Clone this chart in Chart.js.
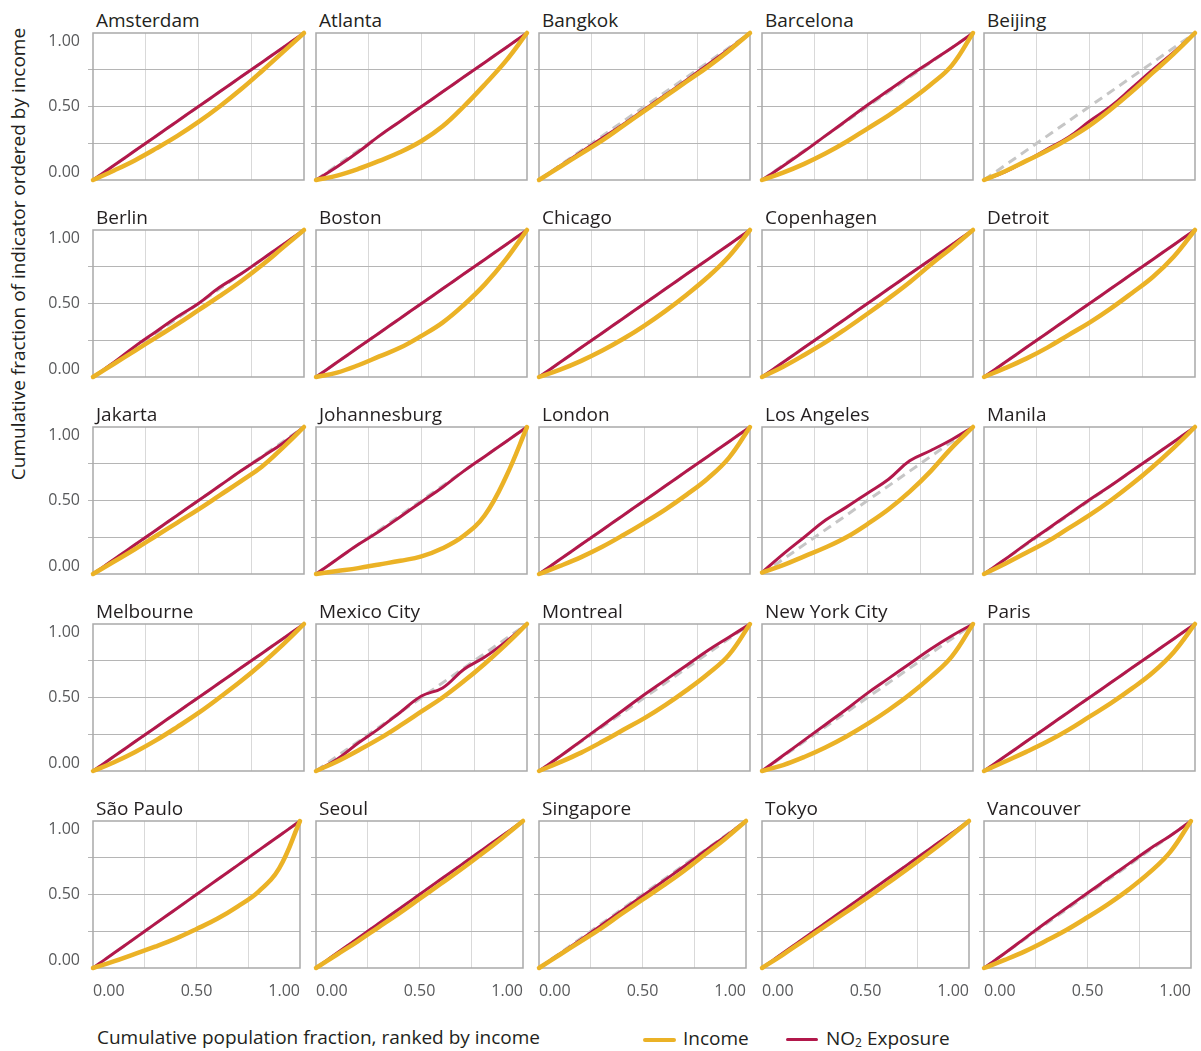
<!DOCTYPE html>
<html>
<head>
<meta charset="utf-8">
<title>Income and NO2 exposure concentration curves</title>
<script src="https://cdn.jsdelivr.net/npm/chart.js@4.4.0/dist/chart.umd.min.js"></script>
<style>
  body { margin: 0; background: #fff; font-family: "Open Sans", sans-serif; }
  #wrap { position: relative; width: 1201px; height: 1051px; overflow: hidden; }
  #wrap canvas { position: absolute; }
  .city { position: absolute; font-size: 19px; line-height: 1; color: #231f20; white-space: nowrap; }
  .axis-title { position: absolute; font-size: 19px; line-height: 1; color: #231f20; white-space: nowrap; }
  #ytitle { left: 18px; top: 254px; transform: translate(-50%, -50%) rotate(-90deg); }
  #xtitle { left: 97px; top: 1028px; }
  .key { position: absolute; top: 1029px; font-size: 19px; line-height: 1; color: #231f20; white-space: nowrap; }
  .swatch { position: absolute; border-radius: 2px; }
  sub { font-size: 12px; vertical-align: -2px; line-height: 0; }
</style>
</head>
<body>
<div id="wrap">
  <div id="ytitle" class="axis-title">Cumulative fraction of indicator ordered by income</div>
  <div id="xtitle" class="axis-title">Cumulative population fraction, ranked by income</div>
  <div class="swatch" style="left:643px; top:1038px; width:33px; height:4px; background:#ebb226;"></div>
  <div class="key" style="left:683px;">Income</div>
  <div class="swatch" style="left:786px; top:1038px; width:32px; height:3px; background:#b2184b;"></div>
  <div class="key" style="left:826px;">NO<sub>2</sub> Exposure</div>
</div>
<script>
// cities, in panel order (row by row)
const cities = ['Amsterdam', 'Atlanta', 'Bangkok', 'Barcelona', 'Beijing',
                'Berlin', 'Boston', 'Chicago', 'Copenhagen', 'Detroit',
                'Jakarta', 'Johannesburg', 'London', 'Los Angeles', 'Manila',
                'Melbourne', 'Mexico City', 'Montreal', 'New York City', 'Paris',
                'São Paulo', 'Seoul', 'Singapore', 'Tokyo', 'Vancouver'];

// cumulative population fraction (x) shared by every curve
const popFraction = [0, 0.1, 0.2, 0.3, 0.4, 0.5, 0.6, 0.7, 0.8, 0.9, 1];

// cumulative share of income, one row per city
const incomeShare = [
  [0, 0.065, 0.135, 0.215, 0.30, 0.395, 0.50, 0.615, 0.74, 0.87, 1],
  [0, 0.03, 0.075, 0.13, 0.19, 0.265, 0.365, 0.50, 0.65, 0.81, 1],
  [0, 0.09, 0.18, 0.27, 0.37, 0.47, 0.57, 0.67, 0.77, 0.88, 1],
  [0, 0.05, 0.11, 0.18, 0.26, 0.35, 0.44, 0.54, 0.65, 0.78, 1],
  [0, 0.06, 0.13, 0.20, 0.28, 0.37, 0.48, 0.60, 0.73, 0.86, 1],
  [0, 0.09, 0.18, 0.27, 0.36, 0.455, 0.55, 0.65, 0.76, 0.88, 1],
  [0, 0.03, 0.08, 0.14, 0.20, 0.28, 0.37, 0.49, 0.63, 0.80, 1],
  [0, 0.05, 0.11, 0.18, 0.26, 0.35, 0.45, 0.56, 0.68, 0.82, 1],
  [0, 0.07, 0.15, 0.235, 0.33, 0.43, 0.535, 0.645, 0.765, 0.88, 1],
  [0, 0.06, 0.125, 0.20, 0.285, 0.37, 0.465, 0.57, 0.68, 0.82, 1],
  [0, 0.085, 0.17, 0.26, 0.35, 0.44, 0.535, 0.63, 0.73, 0.86, 1],
  [0, 0.02, 0.04, 0.065, 0.09, 0.12, 0.175, 0.26, 0.40, 0.66, 1],
  [0, 0.055, 0.115, 0.185, 0.265, 0.35, 0.44, 0.54, 0.65, 0.79, 1],
  [0.01, 0.06, 0.12, 0.18, 0.25, 0.34, 0.44, 0.56, 0.70, 0.86, 1],
  [0, 0.07, 0.145, 0.22, 0.31, 0.40, 0.50, 0.61, 0.73, 0.86, 1],
  [0, 0.06, 0.13, 0.21, 0.30, 0.395, 0.50, 0.61, 0.73, 0.86, 1],
  [0, 0.065, 0.14, 0.22, 0.31, 0.405, 0.50, 0.61, 0.73, 0.86, 1],
  [0, 0.06, 0.125, 0.20, 0.28, 0.36, 0.45, 0.55, 0.66, 0.79, 1],
  [0, 0.04, 0.095, 0.16, 0.235, 0.32, 0.415, 0.52, 0.64, 0.78, 1],
  [0, 0.065, 0.13, 0.20, 0.28, 0.37, 0.46, 0.56, 0.67, 0.81, 1],
  [0, 0.045, 0.095, 0.145, 0.20, 0.265, 0.335, 0.42, 0.52, 0.68, 1],
  [0, 0.09, 0.18, 0.275, 0.37, 0.47, 0.57, 0.67, 0.775, 0.885, 1],
  [0, 0.09, 0.18, 0.27, 0.37, 0.465, 0.56, 0.66, 0.77, 0.88, 1],
  [0, 0.09, 0.185, 0.28, 0.375, 0.47, 0.57, 0.67, 0.775, 0.885, 1],
  [0, 0.055, 0.115, 0.185, 0.26, 0.345, 0.435, 0.535, 0.65, 0.79, 1]
];

// cumulative share of NO2 exposure, one row per city
const no2Share = [
  [0, 0.1, 0.2, 0.3, 0.4, 0.5, 0.6, 0.7, 0.8, 0.9, 1],
  [0, 0.09, 0.19, 0.3, 0.4, 0.5, 0.6, 0.7, 0.8, 0.9, 1],
  [0, 0.095, 0.19, 0.285, 0.38, 0.48, 0.58, 0.68, 0.785, 0.89, 1],
  [0, 0.095, 0.195, 0.30, 0.405, 0.51, 0.61, 0.71, 0.805, 0.90, 1],
  [0, 0.055, 0.13, 0.21, 0.29, 0.40, 0.50, 0.625, 0.75, 0.87, 1],
  [0, 0.1, 0.21, 0.31, 0.41, 0.50, 0.61, 0.70, 0.80, 0.90, 1],
  [0, 0.1, 0.2, 0.3, 0.4, 0.5, 0.6, 0.7, 0.8, 0.9, 1],
  [0, 0.1, 0.2, 0.3, 0.4, 0.5, 0.6, 0.7, 0.8, 0.9, 1],
  [0, 0.1, 0.2, 0.3, 0.4, 0.5, 0.6, 0.7, 0.8, 0.9, 1],
  [0, 0.1, 0.2, 0.3, 0.4, 0.5, 0.6, 0.7, 0.8, 0.9, 1],
  [0, 0.1, 0.2, 0.3, 0.4, 0.5, 0.6, 0.7, 0.795, 0.89, 1],
  [0, 0.1, 0.2, 0.29, 0.39, 0.49, 0.59, 0.70, 0.80, 0.90, 1],
  [0, 0.1, 0.2, 0.3, 0.4, 0.5, 0.6, 0.7, 0.8, 0.9, 1],
  [0.01, 0.135, 0.25, 0.365, 0.455, 0.55, 0.645, 0.77, 0.84, 0.915, 1],
  [0, 0.1, 0.205, 0.305, 0.405, 0.505, 0.6, 0.7, 0.8, 0.9, 1],
  [0, 0.1, 0.2, 0.3, 0.4, 0.5, 0.6, 0.7, 0.8, 0.9, 1],
  [0, 0.08, 0.19, 0.29, 0.40, 0.51, 0.565, 0.69, 0.775, 0.88, 1],
  [0, 0.1, 0.205, 0.31, 0.415, 0.52, 0.62, 0.72, 0.82, 0.91, 1],
  [0, 0.105, 0.21, 0.315, 0.42, 0.53, 0.63, 0.73, 0.83, 0.92, 1],
  [0, 0.1, 0.2, 0.3, 0.4, 0.5, 0.6, 0.7, 0.8, 0.9, 1],
  [0, 0.1, 0.2, 0.3, 0.4, 0.5, 0.6, 0.7, 0.8, 0.9, 1],
  [0, 0.1, 0.2, 0.3, 0.4, 0.5, 0.6, 0.7, 0.8, 0.9, 1],
  [0, 0.095, 0.19, 0.29, 0.39, 0.49, 0.59, 0.69, 0.795, 0.895, 1],
  [0, 0.1, 0.2, 0.3, 0.4, 0.5, 0.6, 0.7, 0.8, 0.9, 1],
  [0, 0.1, 0.205, 0.31, 0.41, 0.51, 0.61, 0.71, 0.81, 0.9, 1]
];

// line of equality and the labelled ticks
const equalityLine = [0, 1];
const labelledTicks = [0, 0.5, 1];

const INCOME = '#ebb226';
const NO2 = '#b2184b';
const FONT = '"Open Sans", sans-serif';

// panel placement on the page
const panelLeft = [93, 316, 539, 762, 984];
const panelTop = [33, 230, 427, 624, 821];
const PW = 211, PH = 147;
const PAD = { l: 60, r: 10, t: 20, b: 40 };

function toPoints(ys) {
  return ys.map((y, i) => ({ x: popFraction[i], y: y }));
}

// hide grid lines on the frame edges (frame is drawn separately)
function gridColor(c) {
  return (ctx) => (ctx.tick && (ctx.tick.value === 0 || ctx.tick.value === 1)) ? 'rgba(0,0,0,0)' : c;
}

function tickLabel(v) {
  return labelledTicks.includes(v) ? v.toFixed(2) : '';
}

// grey box around the plot area
const panelFrame = {
  id: 'panelFrame',
  beforeDatasetsDraw(chart) {
    const a = chart.chartArea, ctx = chart.ctx;
    ctx.save();
    ctx.strokeStyle = '#a9a9a9';
    ctx.lineWidth = 1.5;
    ctx.strokeRect(a.left, a.top, a.right - a.left, a.bottom - a.top);
    ctx.restore();
  }
};

// keep the 0.00 and 1.00 y labels inside the panel height
const innerYLabels = {
  id: 'innerYLabels',
  beforeDraw(chart) {
    const y = chart.scales.y;
    if (!y.options.ticks.display) return;
    y.getLabelItems().forEach((item) => {
      if (item.label === '0.00') item.options.textBaseline = 'bottom';
      if (item.label === '1.00') item.options.textBaseline = 'top';
    });
  }
};

const wrap = document.getElementById('wrap');

cities.forEach((name, i) => {
  const row = Math.floor(i / 5), col = i % 5;
  const left = panelLeft[col], top = panelTop[row];

  const title = document.createElement('div');
  title.className = 'city';
  title.textContent = name;
  title.style.left = (left + 3) + 'px';
  title.style.top = (top - 22) + 'px';
  wrap.appendChild(title);

  const canvas = document.createElement('canvas');
  canvas.width = PW + PAD.l + PAD.r;
  canvas.height = PH + PAD.t + PAD.b;
  canvas.style.left = (left - PAD.l) + 'px';
  canvas.style.top = (top - PAD.t) + 'px';
  wrap.appendChild(canvas);

  new Chart(canvas, {
    type: 'line',
    data: {
      datasets: [
        { label: 'Income', data: toPoints(incomeShare[i]), borderColor: INCOME, borderWidth: 4.5,
          order: 0, tension: 0.4, clip: false },
        { label: 'NO2 Exposure', data: toPoints(no2Share[i]), borderColor: NO2, borderWidth: 3,
          order: 1, tension: 0.4, clip: false },
        { label: 'Equality', data: equalityLine.map((v) => ({ x: v, y: v })), borderColor: '#c6c6c6',
          borderWidth: 3, borderDash: [9, 6], borderCapStyle: 'butt', order: 2 }
      ]
    },
    options: {
      responsive: false,
      animation: false,
      events: [],
      layout: { padding: { top: PAD.t, right: PAD.r, left: 0, bottom: 0 } },
      elements: {
        point: { radius: 0 },
        line: { borderCapStyle: 'round', borderJoinStyle: 'round' }
      },
      plugins: { legend: { display: false }, tooltip: { enabled: false } },
      scales: {
        x: {
          type: 'linear', min: 0, max: 1,
          afterFit: (s) => { s.height = PAD.b; },
          border: { display: false },
          grid: { color: gridColor('#d9d9d9'), drawTicks: false, lineWidth: 1 },
          ticks: {
            display: row === 4, stepSize: 0.25, autoSkip: false, maxRotation: 0,
            align: 'inner', padding: 14, color: '#58595b',
            font: { family: FONT, size: 16 }, callback: tickLabel
          }
        },
        y: {
          type: 'linear', min: 0, max: 1,
          afterFit: (s) => { s.width = PAD.l; },
          border: { display: false },
          grid: { color: gridColor('#b5b5b5'), drawTicks: true, tickLength: 5, lineWidth: 1 },
          ticks: {
            display: col === 0, stepSize: 0.25, autoSkip: false, padding: 8,
            color: '#58595b', font: { family: FONT, size: 16 }, callback: tickLabel
          }
        }
      }
    },
    plugins: [panelFrame, innerYLabels]
  });
});
</script>
</body>
</html>
